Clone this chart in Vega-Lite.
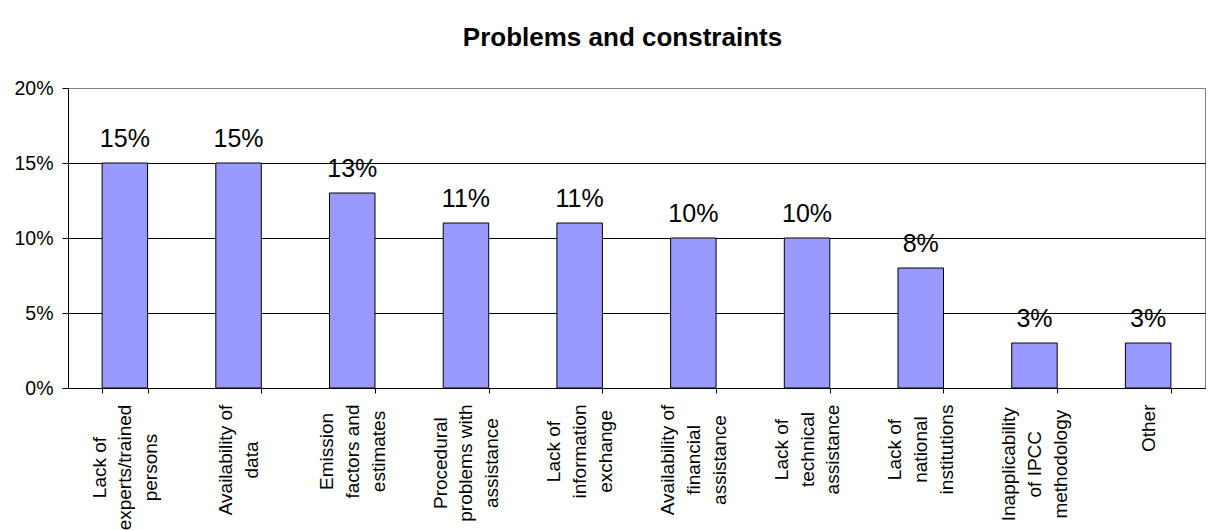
{
  "$schema": "https://vega.github.io/schema/vega-lite/v6.json",
  "width": 1137,
  "height": 300,
  "autosize": "none",
  "padding": {"left": 68, "top": 88, "right": 26, "bottom": 142},
  "background": "white",
  "title": {
    "text": "Problems and constraints",
    "font": "Liberation Sans",
    "fontSize": 26,
    "fontWeight": "bold",
    "color": "black",
    "frame": "group",
    "anchor": "middle",
    "baseline": "alphabetic",
    "offset": 6,
    "dx": -14
  },
  "data": {
    "values": [
      {"problem": "Lack of|experts/trained|persons", "share": 0.15},
      {"problem": "Availability of|data", "share": 0.15},
      {"problem": "Emission|factors and|estimates", "share": 0.13},
      {"problem": "Procedural|problems with|assistance", "share": 0.11},
      {"problem": "Lack of|information|exchange", "share": 0.11},
      {"problem": "Availability of|financial|assistance", "share": 0.10},
      {"problem": "Lack of|technical|assistance", "share": 0.10},
      {"problem": "Lack of|national|institutions", "share": 0.08},
      {"problem": "Inapplicability|of IPCC|methodology", "share": 0.03},
      {"problem": "Other", "share": 0.03}
    ]
  },
  "encoding": {
    "x": {
      "field": "problem",
      "type": "nominal",
      "sort": null,
      "title": null,
      "scale": {"paddingInner": 0.6, "paddingOuter": 0.3},
      "axis": {
        "labelAngle": -90,
        "labelAlign": "center",
        "labelBaseline": "middle",
        "labelExpr": "split(datum.label, '|')",
        "labelFont": "Liberation Sans",
        "labelFontSize": 19,
        "labelLineHeight": 25.8,
        "labelColor": "black",
        "labelLimit": 0,
        "labelOffset": {
          "condition": [
            {"test": "datum.value == 'Other'", "value": 0},
            {"test": "datum.value == 'Availability of|data'", "value": -12.9}
          ],
          "value": -25.8
        },
        "labelPadding": {
          "condition": [
            {"test": "datum.value == 'Lack of|experts/trained|persons'", "value": 74},
            {"test": "datum.value == 'Availability of|data'", "value": 66.5},
            {"test": "datum.value == 'Emission|factors and|estimates'", "value": 58},
            {"test": "datum.value == 'Procedural|problems with|assistance'", "value": 69.6},
            {"test": "datum.value == 'Lack of|information|exchange'", "value": 58},
            {"test": "datum.value == 'Availability of|financial|assistance'", "value": 66.5},
            {"test": "datum.value == 'Lack of|technical|assistance'", "value": 56},
            {"test": "datum.value == 'Lack of|national|institutions'", "value": 56},
            {"test": "datum.value == 'Inapplicability|of IPCC|methodology'", "value": 70.7}
          ],
          "value": 34.8
        },
        "tickBand": "extent",
        "tickSize": 5,
        "tickColor": "black",
        "domainColor": "black",
        "grid": false
      }
    },
    "y": {
      "field": "share",
      "type": "quantitative",
      "title": null,
      "scale": {"domain": [0, 0.2]},
      "axis": {
        "values": [0, 0.05, 0.1, 0.15, 0.2],
        "format": ".0%",
        "labelFont": "Liberation Sans",
        "labelFontSize": 19.5,
        "labelColor": "black",
        "labelPadding": 9,
        "tickSize": 6,
        "tickColor": "black",
        "domainColor": "black",
        "grid": true,
        "gridColor": {"condition": {"test": "datum.value >= 0.2", "value": "#808080"}, "value": "black"}
      }
    }
  },
  "layer": [
    {"mark": {"type": "bar", "fill": "#9999FF", "stroke": "black", "strokeWidth": 1}},
    {
      "mark": {"type": "text", "dy": -16, "baseline": "alphabetic", "font": "Liberation Sans", "fontSize": 25, "fill": "black"},
      "encoding": {"text": {"field": "share", "type": "quantitative", "format": ".0%"}}
    }
  ],
  "config": {"view": {"stroke": "#808080", "strokeWidth": 1}}
}
